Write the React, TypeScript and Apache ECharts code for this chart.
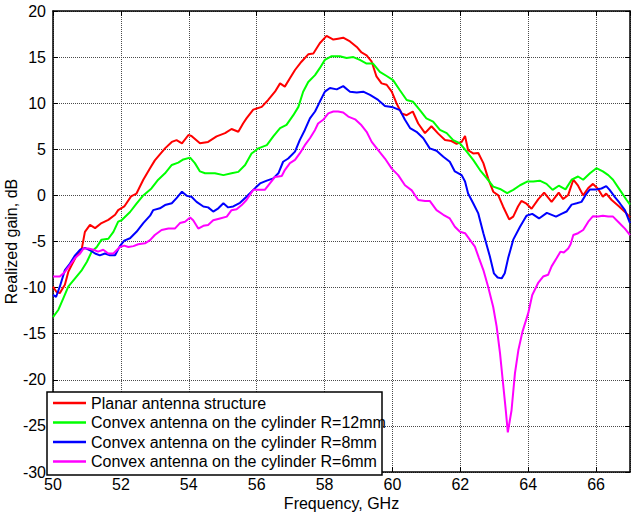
import React, { useEffect, useRef } from "react";
import * as echarts from "echarts";

const FONT = "'Liberation Sans', Arial, Helvetica, sans-serif";

const seriesNames = [
  "Planar antenna structure",
  "Convex antenna on the cylinder R=12mm",
  "Convex antenna on the cylinder R=8mm",
  "Convex antenna on the cylinder R=6mm",
];
const seriesColors = ["#ff0000", "#00ff00", "#0000ff", "#ff00ff"];

const planarFreq = [
  50.0, 50.1, 50.2, 50.35, 50.45, 50.55, 50.7, 50.85, 50.94, 51.09, 51.24, 51.43, 51.63, 51.83, 51.92,
  52.1, 52.3, 52.46, 52.66, 52.85, 53.0, 53.3, 53.5, 53.64, 53.8, 53.99, 54.08, 54.33, 54.57, 54.82,
  55.07, 55.26, 55.46, 55.6, 55.7, 55.9, 56.15, 56.34, 56.54, 56.69, 56.83, 56.98, 57.13, 57.32, 57.52,
  57.67, 57.86, 58.06, 58.26, 58.4, 58.55, 58.75, 58.95, 59.09, 59.24, 59.39, 59.53, 59.68, 59.83, 59.98,
  60.12, 60.27, 60.42, 60.6, 60.76, 60.96, 61.15, 61.35, 61.55, 61.74, 61.89, 62.04, 62.14, 62.23, 62.38,
  62.53, 62.68, 62.82, 62.97, 63.12, 63.26, 63.44, 63.56, 63.7, 63.8, 63.95, 64.1, 64.3, 64.47, 64.69,
  64.9, 65.03, 65.18, 65.33, 65.47, 65.62, 65.77, 65.91, 66.06, 66.2, 66.3, 66.46, 66.68, 66.87, 67.0,
];
const planarGain = [
  -9.9, -10.45, -10.6, -9.7, -8.3, -7.55, -6.5, -5.75, -3.95, -3.2, -3.55, -3.0, -2.65, -2.1, -1.6,
  -1.2, -0.1, 0.2, 1.7, 2.9, 3.8, 5.1, 5.8, 6.0, 5.65, 6.55, 6.45, 5.65, 5.8, 6.4,
  6.75, 7.2, 6.9, 7.8, 8.35, 9.3, 9.6, 10.35, 11.25, 12.15, 11.8, 12.7, 13.6, 14.5, 15.3,
  15.4, 16.5, 17.3, 16.9, 17.0, 17.1, 16.7, 16.1, 15.5, 15.2, 14.5, 12.9, 12.15, 12.0, 11.25,
  10.0, 8.9, 8.7, 9.1, 7.8, 6.75, 7.5, 6.7, 6.0, 5.9, 5.6, 5.8, 6.45, 4.9, 4.55,
  4.6, 3.5, 1.85, 0.4, 0.0, -1.2, -2.6, -2.3, -1.2, -0.6, -0.9, -1.45, -0.4, 0.3, -0.7,
  0.3, -0.4, 0.05, 1.7, 1.05, 0.0, 0.8, 1.25, 0.7, -0.15, 0.2, -0.5, -1.2, -1.85, -2.4,
];

const r12Freq = [
  50.0, 50.16, 50.3, 50.45, 50.65, 50.85, 51.0, 51.14, 51.29, 51.43, 51.63, 51.78, 51.92, 52.02, 52.27,
  52.46, 52.66, 52.9, 53.1, 53.3, 53.5, 53.69, 53.84, 54.04, 54.18, 54.33, 54.48, 54.77, 55.02, 55.26,
  55.46, 55.66, 55.85, 56.05, 56.3, 56.49, 56.69, 56.88, 57.08, 57.23, 57.37, 57.52, 57.72, 57.86, 58.01,
  58.21, 58.45, 58.65, 58.85, 59.04, 59.24, 59.43, 59.63, 59.83, 60.02, 60.22, 60.42, 60.61, 60.81, 61.0,
  61.2, 61.4, 61.6, 61.79, 61.99, 62.19, 62.38, 62.58, 62.77, 62.97, 63.17, 63.38, 63.56, 63.76, 63.97,
  64.15, 64.34, 64.54, 64.72, 64.9, 65.1, 65.28, 65.47, 65.62, 65.82, 66.01, 66.2, 66.36, 66.5, 66.7,
  66.9, 67.0,
];
const r12Gain = [
  -13.2, -12.4, -11.2, -9.9, -9.0, -8.1, -7.2, -6.1, -5.6, -4.8, -4.7, -3.95, -2.85, -2.7, -1.8,
  -0.9, 0.0, 0.75, 1.7, 2.4, 3.3, 3.55, 3.9, 4.1, 3.5, 2.6, 2.4, 2.4, 2.2, 2.4,
  2.55, 3.3, 4.55, 5.1, 5.45, 6.4, 7.3, 7.65, 8.7, 9.6, 11.25, 12.3, 13.05, 13.8, 14.7,
  15.1, 15.1, 14.9, 15.0, 14.7, 14.3, 14.3, 13.4, 12.95, 12.5, 11.4, 10.35, 10.15, 9.25, 8.35,
  8.0, 7.1, 6.75, 6.0, 5.65, 4.75, 3.85, 2.75, 1.9, 0.95, 0.7, 0.25, 0.6, 1.1, 1.5,
  1.5, 1.6, 1.25, 0.6, 1.05, 0.65, 1.7, 2.05, 1.7, 2.4, 2.95, 2.6, 2.2, 1.7, 0.6,
  -0.5, -1.0,
];

const r8Freq = [
  50.0, 50.09, 50.2, 50.35, 50.5, 50.65, 50.8, 50.94, 51.09, 51.24, 51.38, 51.53, 51.68, 51.83, 51.97,
  52.1, 52.27, 52.46, 52.66, 52.86, 52.95, 53.15, 53.3, 53.5, 53.64, 53.8, 53.94, 54.08, 54.23, 54.43,
  54.57, 54.72, 54.87, 55.02, 55.16, 55.31, 55.51, 55.7, 55.9, 56.1, 56.3, 56.49, 56.64, 56.78, 56.93,
  57.13, 57.27, 57.42, 57.57, 57.72, 57.86, 58.01, 58.16, 58.36, 58.55, 58.75, 58.95, 59.14, 59.34, 59.58,
  59.78, 60.02, 60.22, 60.37, 60.52, 60.71, 60.91, 61.1, 61.3, 61.5, 61.69, 61.84, 62.04, 62.14, 62.23,
  62.38, 62.53, 62.68, 62.87, 62.99, 63.1, 63.22, 63.31, 63.41, 63.56, 63.76, 63.95, 64.12, 64.32, 64.55,
  64.82, 64.98, 65.13, 65.28, 65.43, 65.57, 65.72, 65.82, 66.01, 66.16, 66.3, 66.4, 66.55, 66.7, 66.85,
  67.0,
];
const r8Gain = [
  -10.8, -11.0, -9.9, -8.1, -7.4, -6.5, -5.9, -5.7, -5.95, -6.3, -6.5, -6.3, -6.5, -6.5, -5.5,
  -4.9, -4.65, -3.95, -3.0, -2.2, -1.6, -1.4, -1.05, -0.85, -0.3, 0.4, -0.05, -0.15, -0.7, -1.2,
  -1.3, -1.75, -1.4, -0.85, -1.3, -1.2, -0.8, -0.15, 0.6, 1.3, 1.6, 1.85, 2.4, 3.65, 4.0,
  4.75, 6.0, 7.1, 8.35, 9.1, 10.15, 11.25, 11.65, 11.5, 11.85, 11.25, 11.15, 11.25, 10.9, 10.35,
  9.7, 9.55, 9.25, 8.2, 7.3, 6.9, 6.2, 5.1, 4.85, 4.2, 3.65, 2.6, 2.2, 1.5, 0.2,
  -0.85, -1.95, -4.1, -6.6, -8.45, -8.9, -9.0, -8.45, -6.8, -4.8, -3.4, -2.2, -2.0, -2.5, -1.9,
  -2.3, -2.0, -1.75, -1.0, -0.85, -0.7, 0.2, 0.65, 0.65, 0.75, 1.0, 0.6, -0.15, -0.85, -1.6,
  -3.0,
];

const r6Freq = [
  50.0, 50.2, 50.35, 50.5, 50.65, 50.8, 50.9, 51.04, 51.19, 51.33, 51.48, 51.63, 51.78, 51.97, 52.1,
  52.22, 52.37, 52.51, 52.71, 52.86, 53.0, 53.2, 53.4, 53.59, 53.74, 53.89, 54.04, 54.13, 54.28, 54.43,
  54.57, 54.72, 54.92, 55.12, 55.26, 55.41, 55.56, 55.7, 55.9, 56.1, 56.24, 56.39, 56.54, 56.74, 56.83,
  56.98, 57.13, 57.27, 57.42, 57.57, 57.72, 57.81, 57.96, 58.11, 58.26, 58.4, 58.55, 58.7, 58.9, 59.09,
  59.24, 59.39, 59.58, 59.78, 59.98, 60.17, 60.37, 60.57, 60.76, 60.96, 61.1, 61.3, 61.5, 61.69, 61.84,
  61.99, 62.14, 62.29, 62.43, 62.55, 62.68, 62.82, 62.97, 63.07, 63.17, 63.26, 63.34, 63.4, 63.51, 63.61,
  63.71, 63.83, 64.0, 64.12, 64.3, 64.44, 64.59, 64.69, 64.84, 64.95, 65.05, 65.18, 65.25, 65.33, 65.47,
  65.62, 65.77, 65.91, 66.06, 66.2, 66.36, 66.5, 66.65, 66.85, 67.0,
];
const r6Gain = [
  -8.8, -8.8, -8.3, -7.55, -6.8, -6.3, -5.75, -5.75, -5.9, -6.1, -5.9, -6.3, -6.3, -5.6, -5.45,
  -5.6, -5.5, -5.3, -5.2, -4.85, -4.3, -3.75, -3.6, -3.6, -3.0, -2.85, -2.4, -2.7, -3.6, -3.3,
  -3.2, -2.7, -2.5, -2.3, -1.6, -1.5, -1.05, -0.5, 0.6, 0.6, 0.6, 1.3, 2.0, 2.1, 2.75,
  3.5, 3.85, 4.55, 5.45, 6.2, 7.1, 7.8, 8.2, 8.9, 9.1, 9.1, 9.0, 8.55, 8.25, 7.6,
  6.9, 5.8, 4.9, 4.0, 2.9, 2.2, 1.1, 0.55, -0.5, -0.6, -0.6, -1.6, -2.1, -2.5, -3.4,
  -3.95, -4.1, -4.85, -5.55, -6.8, -8.1, -9.9, -12.1, -14.2, -17.1, -20.4, -23.3, -25.7, -23.3, -19.3,
  -16.8, -14.8, -12.8, -10.8, -9.45, -8.8, -8.6, -7.7, -6.8, -6.1, -6.2, -5.75, -5.3, -4.3, -4.1,
  -3.75, -2.85, -2.25, -2.3, -2.2, -2.3, -2.3, -2.85, -3.6, -4.3,
];

const seriesFreqs = [planarFreq, r12Freq, r8Freq, r6Freq];
const seriesGains = [planarGain, r12Gain, r8Gain, r6Gain];

const xMin = 50;
const xMax = 67;
const xStep = 2;
const yMin = -30;
const yMax = 20;
const yStep = 5;

export default function App() {
  const ref = useRef<HTMLDivElement>(null);

  useEffect(() => {
    if (!ref.current) return;
    const chart = echarts.init(ref.current, null, { renderer: "svg" });

    const axisLine = { show: true, onZero: false, lineStyle: { color: "#000", width: 1.5 } };
    const axisTick = { show: true, inside: true, length: 5, lineStyle: { color: "#000", width: 1 } };
    const splitLine = { show: true, lineStyle: { color: "#4a4a4a", width: 1, type: [1, 1] as any } };
    const labelStyle = { color: "#000", fontSize: 16, fontFamily: FONT };

    const series = seriesNames.map((name, i) => ({
      name,
      type: "line",
      xAxisIndex: 0,
      yAxisIndex: 0,
      data: seriesFreqs[i].map((f, k) => [f, seriesGains[i][k]]),
      symbol: "none",
      showSymbol: false,
      smooth: false,
      lineStyle: { color: seriesColors[i], width: 2 },
      itemStyle: { color: seriesColors[i] },
      z: 2,
    }));

    chart.setOption({
      animation: false,
      backgroundColor: "#fff",
      grid: {
        left: 53,
        right: 1,
        top: 11,
        bottom: 42,
        containLabel: false,
        outerBoundsMode: "none",
      },
      xAxis: [
        {
          type: "value",
          position: "bottom",
          min: xMin,
          max: xMax,
          interval: xStep,
          name: "Frequency, GHz",
          nameLocation: "middle",
          nameGap: 23,
          nameMoveOverlap: false,
          nameTextStyle: labelStyle,
          axisLine,
          axisTick,
          axisLabel: { ...labelStyle, margin: 4, showMaxLabel: false },
          splitLine,
        },
        {
          type: "value",
          position: "top",
          min: xMin,
          max: xMax,
          interval: xStep,
          axisLine,
          axisTick,
          axisLabel: { show: false },
          splitLine: { show: false },
        },
      ],
      yAxis: [
        {
          type: "value",
          position: "left",
          min: yMin,
          max: yMax,
          interval: yStep,
          name: "Realized gain, dB",
          nameLocation: "middle",
          nameGap: 34,
          nameMoveOverlap: false,
          nameTextStyle: labelStyle,
          axisLine,
          axisTick,
          axisLabel: { ...labelStyle, margin: 7 },
          splitLine,
        },
        {
          type: "value",
          position: "right",
          min: yMin,
          max: yMax,
          interval: yStep,
          axisLine,
          axisTick,
          axisLabel: { show: false },
          splitLine: { show: false },
        },
      ],
      legend: {
        orient: "vertical",
        left: 53,
        top: 395,
        padding: 0,
        icon: "rect",
        itemWidth: 33,
        itemHeight: 2.5,
        itemGap: 3.5,
        align: "left",
        data: seriesNames,
        textStyle: { ...labelStyle, lineHeight: 16 },
        z: 10,
      },
      graphic: [
        {
          type: "rect",
          shape: { x: 47, y: 392, width: 335, height: 83 },
          style: { fill: "#fff", stroke: "#000", lineWidth: 1.5 },
          z: 5,
        },
      ],
      series,
    });

    return () => chart.dispose();
  }, []);

  return (
    <div
      ref={ref}
      style={{ position: "absolute", left: 0, top: 0, width: 631, height: 514 }}
    />
  );
}
